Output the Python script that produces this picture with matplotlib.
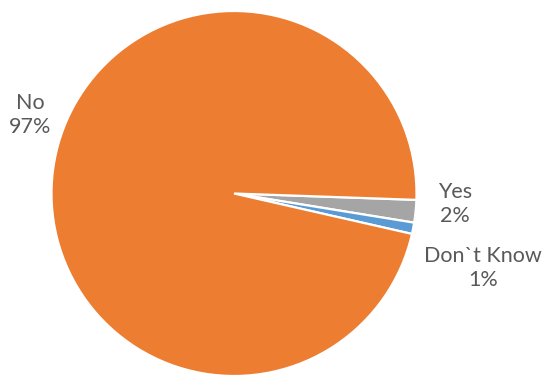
import matplotlib.pyplot as plt

categories = ['Yes', 'Don`t Know', 'No']
shares = [2, 1, 97]
colors = ['#A5A5A5', '#5B9BD5', '#ED7D31']

# label anchor points (pixel space, y up) for each category
label_xy = [(455, 173), (483, 109), (30, 262)]

fig = plt.figure(figsize=(5.48, 3.77), dpi=100)
ax = fig.add_axes([0, 0, 1, 1])

ax.pie(shares, colors=colors, startangle=-2, counterclock=False,
       center=(234, 183.5), radius=182.5,
       wedgeprops=dict(edgecolor='white', linewidth=1.6))
ax.set_xlim(0, 548)
ax.set_ylim(0, 377)
ax.set_aspect('equal')
ax.axis('off')

for name, val, (x, y) in zip(categories, shares, label_xy):
    ax.text(x, y, f'{name}\n{val}%', ha='center', va='center',
            fontsize=15.5, color='#595959', family='Lato',
            linespacing=1.3)

fig.savefig('out.png', dpi=100)
